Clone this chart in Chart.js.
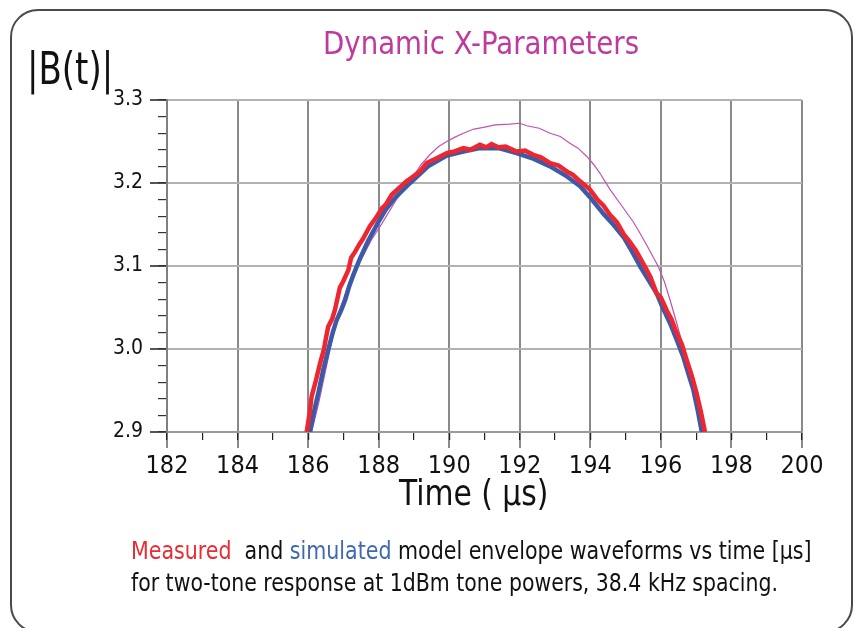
<!DOCTYPE html>
<html>
<head>
<meta charset="utf-8">
<script src="https://cdn.jsdelivr.net/npm/chart.js@4/dist/chart.umd.min.js"></script>
<style>
    html, body { margin: 0; padding: 0; background: #fff; }
    body { width: 854px; height: 628px; position: relative; overflow: hidden;
           font-family: "DejaVu Sans Condensed", "Liberation Sans", sans-serif; }
    #frame { position: absolute; left: 10px; top: 9px; width: 839px; height: 620px;
             border: 2px solid #4a4a4a; border-radius: 28px; }
    #wrap { position: absolute; left: 0; top: 0; width: 854px; height: 628px; }
    .txt { position: absolute; white-space: nowrap; color: #111; transform-origin: 0 0; }
    #title { left: 323px; top: 24px; font-size: 32px; color: #c0399c; transform: scaleX(0.96); }
    #ylab { left: 27px; top: 43px; font-size: 44px; transform: scaleX(0.86); }
    #xlab { left: 399px; top: 472px; font-size: 36px; transform: scaleX(0.92); }
    #cap1 { left: 131px; top: 536px; font-size: 25px; transform: scaleX(0.915); }
    #cap2 { left: 131px; top: 568px; font-size: 25px; transform: scaleX(0.91); }
    .red { color: #ec2a31; }
    .blue { color: #3f68b3; }
</style>
</head>
<body>
<div id="frame"></div>
<div id="wrap"><canvas id="chart" width="854" height="628"></canvas></div>
<div class="txt" id="title">Dynamic X-Parameters</div>
<div class="txt" id="ylab">|B(t)|</div>
<div class="txt" id="xlab">Time ( µs)</div>
<div class="txt" id="cap1"><span class="red">Measured</span>&nbsp; and <span class="blue">simulated</span> model envelope waveforms vs time [µs]</div>
<div class="txt" id="cap2">for two-tone response at 1dBm tone powers, 38.4 kHz spacing.</div>
<script>
    // <-- Data (time in µs, |B(t)|) -->
    const measuredT = [185.96, 186.05, 186.10, 186.22, 186.34, 186.45, 186.50, 186.57, 186.68, 186.76,
        186.90, 187.00, 187.14, 187.22, 187.33, 187.45, 187.56, 187.75, 187.94, 188.10,
        188.20, 188.37, 188.55, 188.79, 188.95, 189.17, 189.36, 189.60, 189.93, 190.15,
        190.40, 190.60, 190.87, 191.05, 191.20, 191.39, 191.60, 191.91, 192.15, 192.38,
        192.60, 192.86, 193.10, 193.33, 193.50, 193.71, 193.99, 194.20, 194.37, 194.55,
        194.75, 194.95, 195.12, 195.30, 195.50, 195.70, 195.88, 196.00, 196.16, 196.30,
        196.45, 196.60, 196.73, 196.88, 197.01, 197.13, 197.25];
    const measuredB = [2.900, 2.925, 2.943, 2.962, 2.983, 3.000, 3.012, 3.027, 3.036, 3.047,
        3.074, 3.082, 3.095, 3.110, 3.117, 3.126, 3.133, 3.148, 3.159, 3.170,
        3.174, 3.186, 3.193, 3.202, 3.207, 3.214, 3.224, 3.229, 3.236, 3.238,
        3.242, 3.240, 3.246, 3.243, 3.247, 3.243, 3.244, 3.238, 3.239, 3.234,
        3.231, 3.224, 3.221, 3.214, 3.210, 3.202, 3.192, 3.180, 3.173, 3.162,
        3.153, 3.138, 3.129, 3.118, 3.103, 3.087, 3.067, 3.062, 3.047, 3.036,
        3.019, 3.005, 2.987, 2.967, 2.947, 2.925, 2.900];

    const simulatedT = [186.05, 186.17, 186.29, 186.43, 186.57, 186.70, 186.81, 186.93, 187.05, 187.16,
        187.28, 187.47, 187.70, 187.99, 188.20, 188.46, 188.89, 189.40, 189.93, 190.40,
        190.87, 191.40, 191.91, 192.40, 192.86, 193.30, 193.71, 193.99, 194.37, 194.65,
        194.94, 195.20, 195.42, 195.65, 195.88, 196.05, 196.26, 196.45, 196.63, 196.78,
        196.92, 197.05, 197.16];
    const simulatedB = [2.900, 2.925, 2.947, 2.975, 2.999, 3.020, 3.035, 3.046, 3.059, 3.075,
        3.089, 3.109, 3.130, 3.153, 3.168, 3.182, 3.200, 3.220, 3.233, 3.238,
        3.242, 3.242, 3.236, 3.229, 3.220, 3.209, 3.196, 3.183, 3.163, 3.150,
        3.135, 3.116, 3.099, 3.083, 3.067, 3.050, 3.031, 3.011, 2.991, 2.970,
        2.951, 2.925, 2.900];

    const staticT = [186.10, 186.30, 186.50, 186.70, 186.86, 187.10, 187.30, 187.52, 187.80, 188.09,
        188.50, 188.89, 189.20, 189.45, 189.70, 189.93, 190.15, 190.40, 190.70, 190.97,
        191.30, 191.72, 192.00, 192.20, 192.55, 192.86, 193.15, 193.42, 193.65, 193.90,
        194.10, 194.27, 194.56, 194.90, 195.22, 195.40, 195.60, 195.93, 196.10, 196.26,
        196.45, 196.63, 196.78, 196.92, 197.10, 197.25];
    const staticB = [2.900, 2.935, 2.975, 3.015, 3.043, 3.072, 3.090, 3.109, 3.132, 3.151,
        3.180, 3.202, 3.222, 3.234, 3.244, 3.250, 3.255, 3.260, 3.265, 3.267,
        3.270, 3.271, 3.272, 3.269, 3.266, 3.260, 3.256, 3.248, 3.242, 3.232,
        3.222, 3.212, 3.192, 3.172, 3.153, 3.140, 3.125, 3.099, 3.081, 3.059,
        3.031, 3.003, 2.985, 2.967, 2.935, 2.900];

    const xMin = 182, xMax = 200, xStep = 2, xMinorStep = 1;
    const yMin = 2.9, yMax = 3.3, yStep = 0.1, yMinorStep = 0.02;

    const FONT = '"DejaVu Sans Condensed", "Liberation Sans", sans-serif';

    function pts(xs, ys) { return xs.map((x, i) => ({ x, y: ys[i] })); }

    function line(label, xs, ys, color, width) {
        return {
            label,
            data: pts(xs, ys),
            borderColor: color,
            borderWidth: width,
            pointRadius: 0,
            tension: 0,
            fill: false
        };
    }

    window.addEventListener('DOMContentLoaded', function () {
        const ctx = document.getElementById('chart');
        if (!ctx || typeof Chart === 'undefined') return;
        new Chart(ctx, {
            type: 'line',
            data: {
                datasets: [
                    line('Measured', measuredT, measuredB, '#ee2630', 4.5),
                    line('Simulated', simulatedT, simulatedB, '#3c5aa8', 4.5),
                    line('Static', staticT, staticB, '#c252b0', 1.2)
                ]
            },
            options: {
                responsive: false,
                animation: false,
                layout: { padding: { left: 100, top: 100, right: 52, bottom: 196 } },
                plugins: { legend: { display: false }, tooltip: { enabled: false } },
                scales: {
                    x: {
                        type: 'linear', min: xMin, max: xMax,
                        position: { y: yMin },
                        grid: { color: '#8a8a8a', lineWidth: 2, tickLength: 15, tickColor: '#8a8a8a' },
                        border: { display: true, color: '#9a9a9a', width: 2 },
                        ticks: { stepSize: xStep, autoSkip: false, maxRotation: 0, padding: 4,
                                 color: '#111', font: { family: FONT, size: 25 } }
                    },
                    xMinor: {
                        type: 'linear', min: xMin, max: xMax, axis: 'x',
                        position: { y: yMin },
                        grid: { drawOnChartArea: false, tickLength: 8, tickColor: '#222', lineWidth: 1.2 },
                        border: { display: false },
                        ticks: { stepSize: xMinorStep, display: false }
                    },
                    y: {
                        type: 'linear', min: yMin, max: yMax,
                        position: 'left',
                        afterFit: s => { s.width = 67; },
                        grid: { color: '#b2b2b2', lineWidth: 2, tickLength: 17, tickColor: '#555' },
                        border: { display: true, color: '#808080', width: 2 },
                        ticks: { stepSize: yStep, autoSkip: false, padding: 7, color: '#111',
                                 font: { family: FONT, size: 21 },
                                 callback: v => Number(v).toFixed(1) }
                    },
                    yMinor: {
                        type: 'linear', min: yMin, max: yMax, axis: 'y',
                        position: { x: xMin },
                        grid: { drawOnChartArea: false, tickLength: 9, tickColor: '#333', lineWidth: 1.2 },
                        border: { display: false },
                        ticks: { stepSize: yMinorStep, display: false }
                    }
                }
            }
        });
    });
</script>
</body>
</html>
